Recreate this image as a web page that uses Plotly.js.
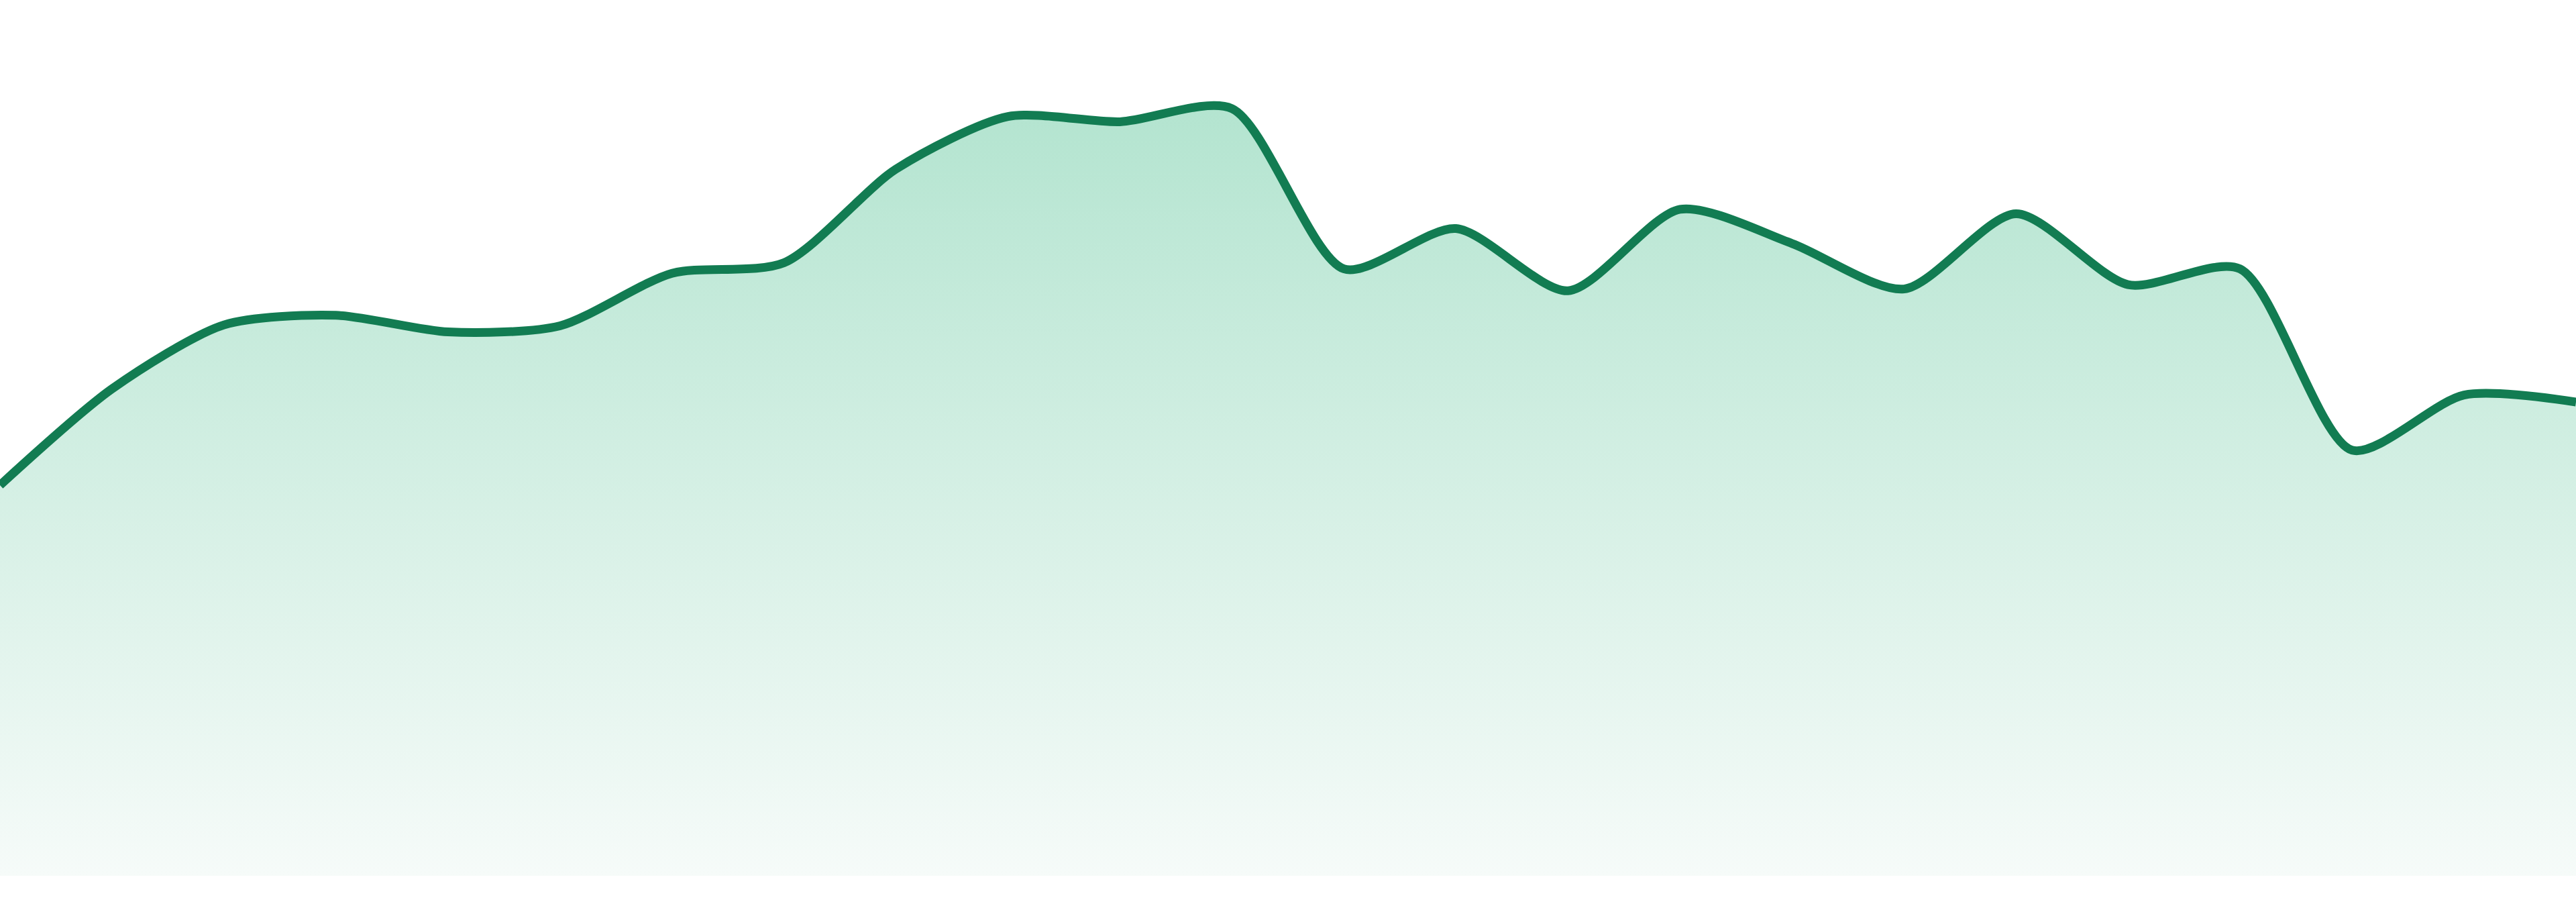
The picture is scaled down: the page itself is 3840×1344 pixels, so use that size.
<!DOCTYPE html>
<html>
<head>
<meta charset="utf-8">
<script src="https://cdn.plot.ly/plotly-3.0.1.min.js"></script>
<style>
  html, body { margin: 0; padding: 0; background: #fff; }
  #myDiv { width: 3840px; height: 1344px; }
</style>
</head>
<body>
<div id="myDiv"></div>
<script>
// one point per step
var steps = [1,2,3,4,5,6,7,8,9,10,11,12,13,14,15,16,17,18,19,20,21,22,23,24];
var values = [44.6,55.6,62.9,64.0,62.1,62.8,68.8,70.0,80.7,86.7,86.1,87.6,
              69.3,73.9,66.8,76.1,72.2,67.0,75.6,67.5,69.3,48.6,54.9,54.1];

var lineColor = '#127c52';

var trace = {
  x: steps,
  y: values,
  type: 'scatter',
  mode: 'lines',
  line: {color: lineColor, width: 13, shape: 'spline', smoothing: 0.75},
  fill: 'tozeroy',
  fillgradient: {
    type: 'vertical',
    start: 0,
    stop: 100,
    colorscale: [[0, 'rgb(246,251,249)'], [1, 'rgb(170,225,202)']]
  },
  hoverinfo: 'skip'
};

var layout = {
  width: 3840,
  height: 1344,
  margin: {l: 0, r: 0, t: 0, b: 39, pad: 0},
  paper_bgcolor: '#ffffff',
  plot_bgcolor: '#ffffff',
  showlegend: false,
  xaxis: {range: [1, 24], visible: false, showgrid: false, zeroline: false, fixedrange: true},
  yaxis: {range: [0, 100], visible: false, showgrid: false, zeroline: false, fixedrange: true}
};

Plotly.newPlot('myDiv', [trace], layout, {staticPlot: true, displayModeBar: false});
</script>
</body>
</html>
